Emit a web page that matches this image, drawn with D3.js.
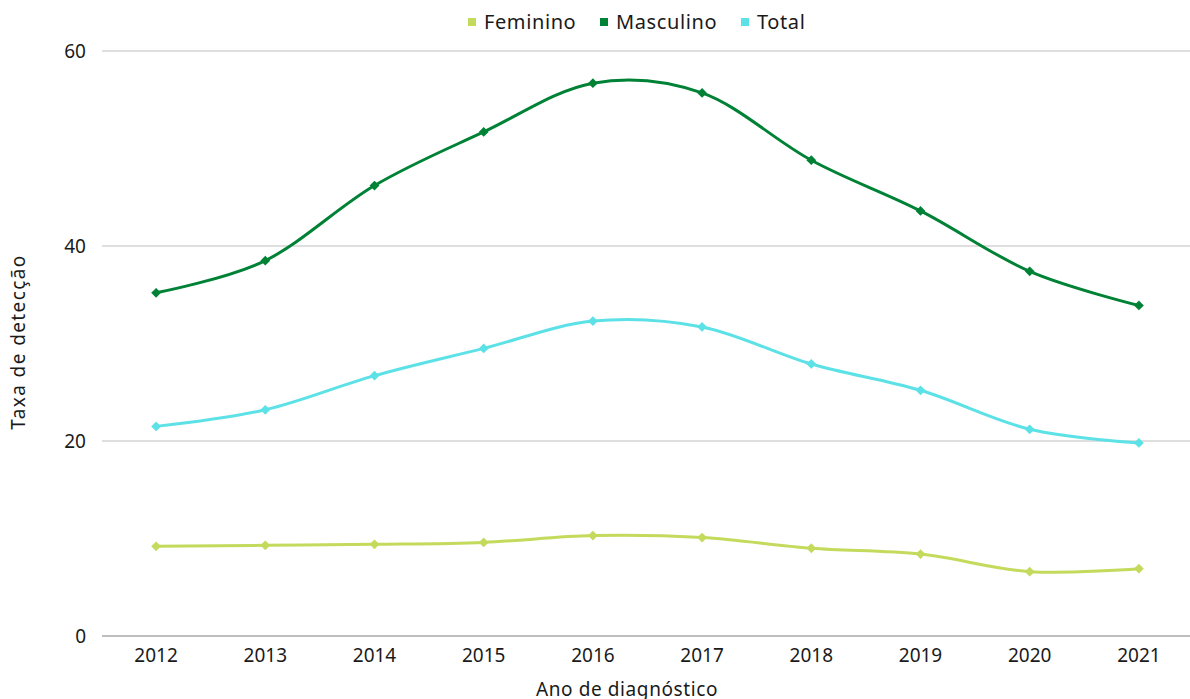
<!DOCTYPE html>
<html>
<head>
<meta charset="utf-8">
<script src="https://cdn.jsdelivr.net/npm/d3@7"></script>
<style>
  body { margin: 0; background: #fff; }
  text { font-family: "Noto Sans", sans-serif; fill: #1a1a1a; }
</style>
</head>
<body>
<svg id="stage" width="1190" height="699"></svg>
<script>
// data
var years = ["2012","2013","2014","2015","2016","2017","2018","2019","2020","2021"];
var feminino  = [9.2, 9.3, 9.4, 9.6, 10.3, 10.1, 9.0, 8.4, 6.6, 6.9];
var masculino = [35.2, 38.5, 46.2, 51.7, 56.7, 55.7, 48.8, 43.6, 37.4, 33.9];
var total     = [21.5, 23.2, 26.7, 29.5, 32.3, 31.7, 27.9, 25.2, 21.2, 19.8];
var yTicks = [0, 20, 40, 60];

var series = [
  {name: "Feminino",  values: feminino,  color: "#c3da5c"},
  {name: "Masculino", values: masculino, color: "#008236"},
  {name: "Total",     values: total,     color: "#5ce1e6"}
];

var svg = d3.select("#stage");

var x = d3.scaleBand().domain(years).range([101.5, 1193.5]);
var y = d3.scaleLinear().domain([0, 60]).range([636, 51]);

// gridlines
svg.append("g").selectAll("line")
  .data(yTicks.filter(function(d){ return d > 0; }))
  .enter().append("line")
  .attr("x1", 102).attr("x2", 1190)
  .attr("y1", function(d){ return y(d); })
  .attr("y2", function(d){ return y(d); })
  .attr("stroke", "#bfbfbf").attr("stroke-width", 1);

// x axis line
svg.append("line")
  .attr("x1", 102).attr("x2", 1190)
  .attr("y1", y(0)).attr("y2", y(0))
  .attr("stroke", "#7f7f7f").attr("stroke-width", 1);

// y tick labels
var yAxis = svg.append("g").attr("transform", "translate(102,0)")
  .call(d3.axisLeft(y).tickValues(yTicks).tickSize(0).tickPadding(16));
yAxis.select(".domain").remove();
yAxis.selectAll("text").style("font-size", "19px").attr("fill", "#1a1a1a");

// x tick labels
var xAxis = svg.append("g").attr("transform", "translate(0," + y(0) + ")")
  .call(d3.axisBottom(x).tickSize(0).tickPadding(13));
xAxis.select(".domain").remove();
xAxis.selectAll("text").style("font-size", "19px").attr("fill", "#1a1a1a");

// axis titles
svg.append("text")
  .attr("x", 627).attr("y", 696)
  .attr("text-anchor", "middle")
  .style("font-size", "19px")
  .style("letter-spacing", "0.6px")
  .text("Ano de diagnóstico");

svg.append("text")
  .attr("transform", "translate(25,342) rotate(-90)")
  .attr("text-anchor", "middle")
  .style("font-size", "19px")
  .style("letter-spacing", "1.4px")
  .text("Taxa de detecção");

// lines
var line = d3.line()
  .x(function(d, i){ return x(years[i]) + x.bandwidth() / 2; })
  .y(function(d){ return y(d); })
  .curve(d3.curveCardinal.tension(0));

var marker = d3.symbol().type(d3.symbolSquare).size(48);

series.forEach(function(s){
  svg.append("path")
    .datum(s.values)
    .attr("d", line)
    .attr("fill", "none")
    .attr("stroke", s.color)
    .attr("stroke-width", 3);

  svg.append("g").selectAll("path")
    .data(s.values)
    .enter().append("path")
    .attr("d", marker)
    .attr("transform", function(d, i){
      return "translate(" + (x(years[i]) + x.bandwidth() / 2) + "," + y(d) + ") rotate(45)";
    })
    .attr("fill", s.color);
});

// legend
var legendX = [468, 600, 741];
var legend = svg.append("g").selectAll("g")
  .data(series)
  .enter().append("g")
  .attr("transform", function(d, i){ return "translate(" + legendX[i] + ",22)"; });

legend.append("rect")
  .attr("x", 0).attr("y", -4)
  .attr("width", 8).attr("height", 8)
  .attr("fill", function(d){ return d.color; });

legend.append("text")
  .attr("x", 16).attr("dy", "0.35em")
  .style("font-size", "20px")
  .style("letter-spacing", "0.6px")
  .text(function(d){ return d.name; });
</script>
</body>
</html>
